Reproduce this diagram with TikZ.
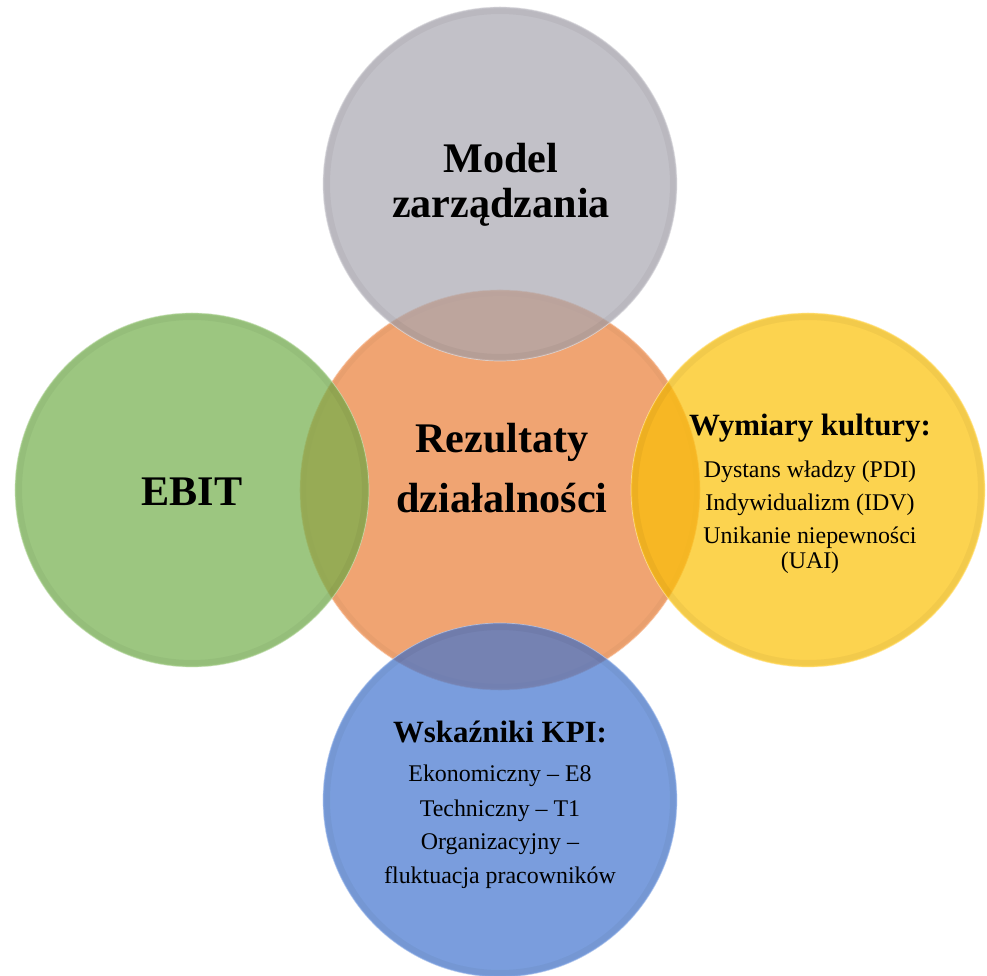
\documentclass[tikz,border=0pt]{standalone}
\usepackage{fontspec}
\setmainfont{Liberation Serif}
\usepackage{tikz}

\definecolor{orangec}{RGB}{240,164,114}
\definecolor{grayc}{RGB}{168,166,176}
\definecolor{greenc}{RGB}{114,174,74}
\definecolor{yellowc}{RGB}{251,192,4}
\definecolor{bluec}{RGB}{65,116,206}

\begin{document}
\begin{tikzpicture}[
    headtext/.style={font=\fontsize{30}{32}\selectfont\bfseries, align=center},
    listtext/.style={font=\fontsize{17}{23.5}\selectfont, align=center}]

  \useasboundingbox (-12.5,-12.15) rectangle (12.175,12.25);

  % middle circle
  \fill[orangec] (0,0) circle (5);
  \draw[orangec!70!black, opacity=0.1, line width=3pt] (0,0) circle (4.9);
  \draw[orangec!50!white, line width=0.4pt] (0,0) circle (5);

  % outer circles, see-through so the overlaps mix
  \foreach \a/\d/\c in {90/7.65/grayc, 180/7.7/greenc, 0/7.7/yellowc, 270/7.75/bluec}
  {
    \fill[\c, fill opacity=0.7] (\a:\d) circle (4.425);
    \draw[black, opacity=0.04, line width=4pt] (\a:\d) circle (4.32);
    \draw[\c!35!white, opacity=0.7, line width=0.5pt] (\a:\d) circle (4.425);
  }

  % labels
  \node[headtext] (model) at (0.025,7.625) {Model\\zarządzania};
  \node[headtext, font=\fontsize{30}{42.7}\selectfont\bfseries] (wyniki) at (0.05,0.55) {Rezultaty\\działalności};
  \node[headtext] (ebit) at (-7.7,-0.05) {EBIT};
  \node[listtext] (kultura) at (7.75,-0.1)
    {{\fontsize{22}{26}\selectfont\bfseries Wymiary kultury:}\\[6.4pt]
     Dystans władzy (PDI)\\ Indywidualizm (IDV)\\ Unikanie niepewności\\[-5.7pt] (UAI)};
  \node[listtext] (kpi) at (0,-7.86)
    {{\fontsize{22}{26}\selectfont\bfseries Wskaźniki KPI:}\\[4.2pt]
     Ekonomiczny – E8\\[2pt] Techniczny – T1\\ Organizacyjny –\\ fluktuacja pracowników};
\end{tikzpicture}
\end{document}
